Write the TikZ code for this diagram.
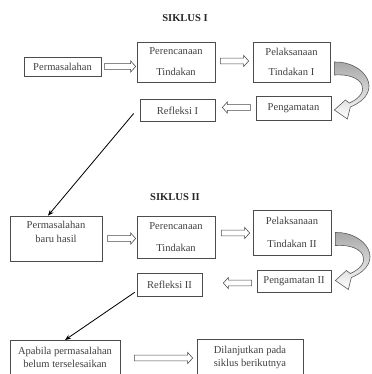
\documentclass[tikz,border=0pt]{standalone}
\usepackage{fontspec}
\setmainfont{Liberation Serif}
\usetikzlibrary{calc,arrows.meta}

\begin{document}
\begin{tikzpicture}[x=0.03cm,y=-0.03cm,
  box/.style={draw=black!70,line width=0.6pt,align=center,inner sep=0pt,text=black!75,font=\fontsize{9}{11}\selectfont},
  title/.style={font=\fontsize{9}{11}\selectfont\bfseries,text=black!85},
  pointer/.style={line width=0.7pt,-{Stealth[length=5pt,width=4pt]}},
  hollow/.style={draw=black!70,line width=0.5pt,fill=white,
    to path={let \p1=(\tikztostart), \p2=(\tikztotarget), \n1={ifthenelse(\x2>\x1,1,-1)} in
      (\x1,\y1+2.5pt) -- (\x2-\n1*4.3pt,\y1+2.5pt) -- (\x2-\n1*4.3pt,\y1+4.8pt) -- (\x2,\y1)
      -- (\x2-\n1*4.3pt,\y1-4.8pt) -- (\x2-\n1*4.3pt,\y1-2.5pt) -- (\x1,\y1-2.5pt) -- cycle}},
  pics/turnarrow/.style={code={
    \draw[draw=black!65,line width=0.5pt,top color=black!35,middle color=black!12,bottom color=white]
      (0,0) .. controls (30,-1) and (52,30) .. (16,45) -- (13,57) -- (0,48)
      -- (11,38) -- (15,41) .. controls (38,31) and (30,11) .. (0,13) -- cycle;
  }}]
\useasboundingbox (0,0) rectangle (371,374);

% siklus I
\node[title] (t1) at (185,18) {SIKLUS I};
\node[box,minimum width=2.31cm,minimum height=0.57cm] (perm1) at (62.5,66.5) {Permasalahan};
\node[box,minimum width=2.34cm,minimum height=1.2cm] (ren1) at (176,62) {Perencanaan\\[7pt]Tindakan};
\node[box,minimum width=2.31cm,minimum height=1.2cm] (lak1) at (291.5,62) {Pelaksanaan\\[6pt]Tindakan I};
\node[box,minimum width=2.25cm,minimum height=0.72cm] (amat1) at (293.5,108.5) {Pengamatan};
\node[box,minimum width=2.25cm,minimum height=0.66cm] (ref1) at (177.5,110.5) {Refleksi I};

\draw[hollow] ($(perm1.east)+(3,0)$) to ($(ren1.west)+(-1,0)$);
\draw[hollow] ($(ren1.east)+(5,-1)$) to ($(lak1.west)+(-4,0)$);
\draw[hollow] ($(amat1.west)+(-5,-1)$) to ($(ref1.east)+(7,0)$);
\pic at ($(lak1.east)+(4,0)$) {turnarrow};

% siklus II
\node[title] (t2) at (175,197) {SIKLUS II};
\node[box,minimum width=2.76cm,minimum height=1.35cm,text depth=11pt] (perm2) at (56,238.5) {Permasalahan\\[1pt]baru hasil};
\node[box,minimum width=2.34cm,minimum height=1.26cm] (ren2) at (176,237) {Perencanaan\\[8pt]Tindakan};
\node[box,minimum width=2.34cm,minimum height=1.35cm] (lak2) at (292,232.5) {Pelaksanaan\\[9pt]Tindakan II};
\node[box,minimum width=2.22cm,minimum height=0.66cm] (amat2) at (294,281) {Pengamatan II};
\node[box,minimum width=1.95cm,minimum height=0.69cm] (ref2) at (169.5,284.5) {Refleksi II};

\draw[hollow] ($(perm2.east)+(5,0)$) to ($(ren2.west)+(-1,0)$);
\draw[hollow] ($(ren2.east)+(6,-4)$) to ($(lak2.west)+(-3,0)$);
\draw[hollow] ($(amat2.west)+(-5,2)$) to ($(ref2.east)+(21,0)$);
\pic at ($(lak2.east)+(4,0)$) {turnarrow};

% akhir
\node[box,anchor=north,minimum width=3.3cm,inner ysep=6pt,text depth=60pt] (apa) at (65,340) {Apabila permasalahan\\belum terselesaikan};
\node[box,anchor=north,minimum width=3.18cm,inner ysep=6pt,text depth=60pt] (lanjut) at (250,339) {Dilanjutkan pada\\siklus berikutnya};
\draw[hollow] ($(apa.north east)+(14,18)$) to ($(lanjut.north west)+(-4,18)$);

\draw[pointer] ($(ref1.west)+(-6,3)$) -- ($(perm2.north)+(-8,0)$);
\draw[pointer] ($(ref2.south west)+(-2,-4)$) -- (apa.north);
\end{tikzpicture}
\end{document}
